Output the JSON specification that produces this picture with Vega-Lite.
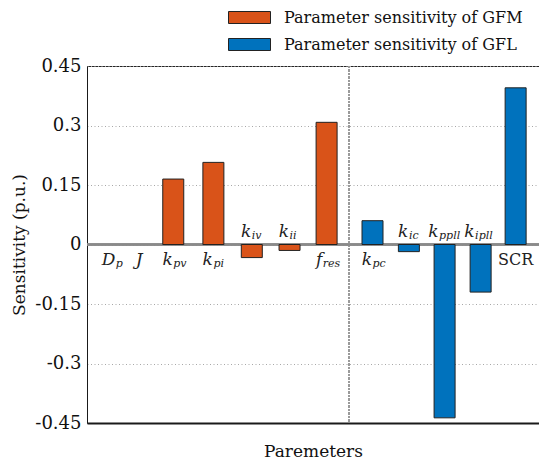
{
  "$schema": "https://vega.github.io/schema/vega-lite/v6.json",
  "autosize": {"type": "none"},
  "padding": {"left": 87, "top": 66, "right": 0, "bottom": 41},
  "width": 452,
  "height": 357,
  "config": {
    "font": "DejaVu Serif",
    "view": {"stroke": "#262626", "strokeWidth": 1},
    "axis": {"labelFont": "DejaVu Serif", "titleFont": "DejaVu Serif", "titleFontWeight": "normal", "labelColor": "#111", "titleColor": "#111"}
  },
  "data": {
    "values": [
      {"sym": "D", "sub": "p", "pos": 0.59, "value": 0, "group": "Parameter sensitivity of GFM"},
      {"sym": "J", "sub": "", "pos": 1.37, "value": 0, "group": "Parameter sensitivity of GFM"},
      {"sym": "k", "sub": "pv", "pos": 2.39, "value": 0.165, "group": "Parameter sensitivity of GFM"},
      {"sym": "k", "sub": "pi", "pos": 3.57, "value": 0.207, "group": "Parameter sensitivity of GFM"},
      {"sym": "k", "sub": "iv", "pos": 4.7, "value": -0.033, "group": "Parameter sensitivity of GFM"},
      {"sym": "k", "sub": "ii", "pos": 5.81, "value": -0.015, "group": "Parameter sensitivity of GFM"},
      {"sym": "f", "sub": "res", "pos": 6.9, "value": 0.308, "group": "Parameter sensitivity of GFM"},
      {"sym": "k", "sub": "pc", "pos": 8.25, "value": 0.06, "group": "Parameter sensitivity of GFL"},
      {"sym": "k", "sub": "ic", "pos": 9.32, "value": -0.018, "group": "Parameter sensitivity of GFL"},
      {"sym": "k", "sub": "ppll", "pos": 10.37, "value": -0.437, "group": "Parameter sensitivity of GFL"},
      {"sym": "k", "sub": "ipll", "pos": 11.43, "value": -0.12, "group": "Parameter sensitivity of GFL"},
      {"sym": "SCR", "sub": "", "pos": 12.46, "value": 0.395, "group": "Parameter sensitivity of GFL"}
    ]
  },
  "encoding": {
    "x": {
      "field": "pos",
      "type": "quantitative",
      "scale": {"domain": [0, 13], "nice": false, "zero": false},
      "axis": {
        "title": "Paremeters",
        "titleFontSize": 17,
        "titlePadding": 20,
        "labels": false,
        "ticks": false,
        "grid": false,
        "domainColor": "#1a1a1a",
        "domainWidth": 2
      }
    },
    "y": {
      "type": "quantitative",
      "scale": {"domain": [-0.45, 0.45], "nice": false, "zero": false},
      "axis": {
        "title": "Sensitivity (p.u.)",
        "titleFontSize": 17,
        "titlePadding": 6,
        "values": [-0.45, -0.3, -0.15, 0, 0.15, 0.3, 0.45],
        "labelExpr": "'' + datum.value",
        "labelFontSize": 18,
        "labelPadding": 6,
        "ticks": false,
        "domainColor": "#1a1a1a",
        "domainWidth": 1,
        "grid": true,
        "gridColor": "#a8a8a8",
        "gridDash": [1, 2.5],
        "gridWidth": 1
      }
    }
  },
  "layer": [
    {
      "mark": {"type": "rule", "color": "#9a9a9a", "strokeDash": [2, 1.5], "strokeWidth": 1.5},
      "encoding": {"x": {"datum": 7.56}, "y": null}
    },
    {
      "mark": {"type": "rule", "color": "#8a8a8a", "strokeWidth": 1.5},
      "encoding": {"y": {"datum": 0}, "x": null}
    },
    {
      "transform": [{"filter": "datum.value !== 0"}],
      "mark": {"type": "bar", "size": 21, "stroke": "#222222", "strokeWidth": 1},
      "encoding": {
        "y": {"field": "value"},
        "color": {
          "field": "group",
          "type": "nominal",
          "scale": {"domain": ["Parameter sensitivity of GFM", "Parameter sensitivity of GFL"], "range": ["#D95319", "#0072BD"]},
          "legend": {
            "title": null,
            "orient": "none",
            "legendX": 152,
            "legendY": -59,
            "padding": 0,
            "symbolType": "M-2.1,-0.6H2.1V0.6H-2.1Z",
            "symbolSize": 400,
            "symbolStrokeColor": "#222222",
            "symbolStrokeWidth": 1,
            "symbolOpacity": 1,
            "labelFont": "DejaVu Serif",
            "labelFontSize": 16,
            "labelColor": "#111",
            "labelOffset": 24,
            "labelLimit": 400,
            "rowPadding": 8
          }
        }
      }
    },
    {
      "transform": [{"filter": "datum.sym !== 'SCR'"}],
      "mark": {
        "type": "text",
        "font": "DejaVu Serif",
        "fontStyle": "italic",
        "fontSize": 17,
        "color": "#222",
        "align": "right",
        "baseline": "alphabetic",
        "dx": {"expr": "((datum.sym === 'D' ? 12 : datum.sym === 'J' ? 8 : datum.sym === 'f' ? 8 : 10) - 5.5 * length(datum.sub)) / 2"},
        "dy": {"expr": "datum.value < 0 ? -8 : 20"}
      },
      "encoding": {"y": {"datum": 0}, "text": {"field": "sym"}}
    },
    {
      "transform": [{"filter": "datum.sub !== ''"}],
      "mark": {
        "type": "text",
        "font": "DejaVu Serif",
        "fontStyle": "italic",
        "fontSize": 11,
        "color": "#222",
        "align": "left",
        "baseline": "alphabetic",
        "dx": {"expr": "((datum.sym === 'D' ? 12 : datum.sym === 'J' ? 8 : datum.sym === 'f' ? 8 : 10) - 5.5 * length(datum.sub)) / 2 + 0.5"},
        "dy": {"expr": "datum.value < 0 ? -6 : 22"}
      },
      "encoding": {"y": {"datum": 0}, "text": {"field": "sub"}}
    },
    {
      "transform": [{"filter": "datum.sym === 'SCR'"}],
      "mark": {
        "type": "text",
        "font": "DejaVu Serif",
        "fontSize": 16,
        "color": "#222",
        "align": "center",
        "baseline": "alphabetic",
        "dy": 20
      },
      "encoding": {"y": {"datum": 0}, "text": {"field": "sym"}}
    }
  ]
}
